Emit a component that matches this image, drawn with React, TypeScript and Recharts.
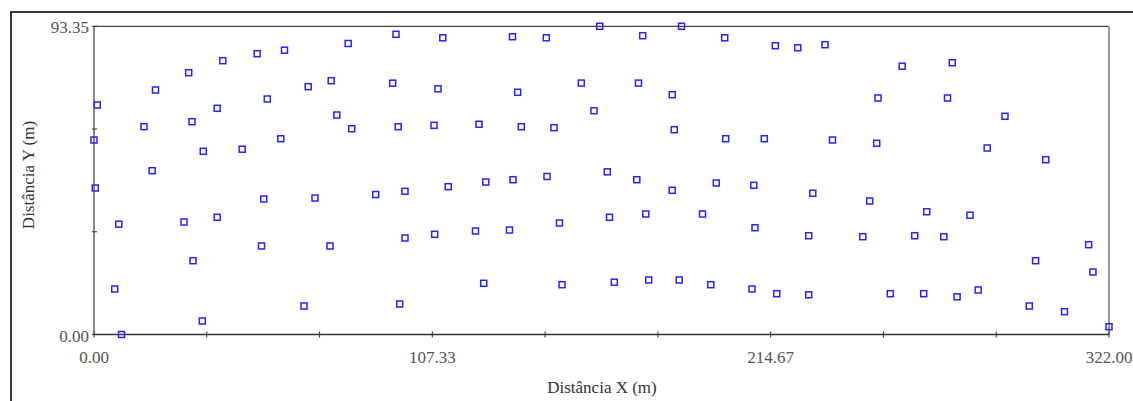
import React from 'react';
import { ScatterChart, Scatter, XAxis, YAxis, ReferenceLine } from 'recharts';

// Sample points (Distância X, Distância Y) in metres
const pointX = [1.05, 0.0, 0.41, 8.72, 6.57, 7.87, 15.86, 19.51, 18.46, 30.04,
  31.09, 28.55, 31.41, 34.36, 34.67, 39.08, 40.86, 39.08, 47.01, 51.77,
  53.14, 53.84, 54.98, 59.26, 60.43, 66.62, 67.95, 70.11, 74.87, 75.25,
  77.03, 80.64, 81.75, 89.37, 94.76, 95.81, 96.5, 96.98, 98.66, 98.66,
  107.86, 108.08, 109.13, 110.65, 112.37, 121.03, 122.14, 123.63, 124.29, 131.81,
  132.76, 132.92, 134.41, 135.56, 143.49, 143.71, 145.93, 147.67, 148.47, 154.59,
  158.62, 160.43, 162.84, 163.54, 165.06, 172.2, 172.74, 174.07, 175.05, 175.97,
  183.45, 184.09, 183.43, 185.65, 186.38, 193.04, 195.67, 197.42, 200.08, 200.4,
  208.74, 209.31, 209.69, 212.65, 216.14, 216.61, 223.25, 226.74, 226.74, 228.03,
  231.9, 234.28, 243.89, 246.08, 248.3, 248.72, 252.62, 256.39, 260.36, 263.21,
  264.17, 269.59, 270.77, 272.29, 273.8, 277.9, 280.5, 283.36, 289.0, 296.71,
  298.71, 301.94, 307.88, 315.55, 316.92, 322.0];

const pointY = [69.51, 58.91, 44.37, 0.0, 13.78, 33.41, 62.94, 74.06, 49.61, 79.3,
  64.45, 34.07, 22.35, 4.09, 55.49, 68.51, 82.93, 35.5, 56.12, 85.05,
  26.81, 41.04, 71.33, 59.3, 86.11, 8.63, 75.06, 41.34, 26.81, 76.87,
  66.48, 88.14, 62.33, 42.4, 76.12, 90.93, 62.94, 9.24, 43.37, 29.23,
  63.36, 30.35, 74.42, 89.87, 44.77, 31.35, 63.67, 15.51, 46.19, 31.65,
  90.2, 46.89, 73.36, 62.94, 89.87, 47.86, 62.64, 33.77, 15.08, 76.15,
  67.79, 93.35, 49.28, 35.5, 15.84, 46.89, 76.15, 90.5, 36.5, 16.51,
  72.63, 62.03, 43.68, 16.51, 93.35, 36.5, 15.08, 45.89, 89.87, 59.3,
  13.78, 45.19, 32.35, 59.3, 87.47, 12.36, 86.84, 29.92, 12.02, 42.77,
  87.78, 58.91, 29.62, 40.43, 57.91, 71.63, 12.36, 81.26, 29.92, 12.36,
  37.19, 29.62, 71.63, 82.32, 11.42, 36.13, 13.48, 56.49, 66.09, 8.63,
  22.35, 52.94, 6.91, 27.2, 18.93, 2.36];

const xTicks = [0, 35.78, 71.56, 107.33, 143.11, 178.89, 214.67, 250.44, 286.22, 322];
const xTickLabels = ['0.00', '', '', '107.33', '', '', '214.67', '', '', '322.00'];
const yTicks = [0, 31.12, 62.23, 93.35];
const yTickLabels = ['0.00', '', '', '93.35'];

const xTitle = 'Distância X (m)';
const yTitle = 'Distância Y (m)';

const data = pointX.map((x, i) => ({ x, y: pointY[i] }));

const FONT = "'Liberation Serif', 'Times New Roman', serif";

const XTick = (props: any) => {
  const { x, y, payload } = props;
  const idx = xTicks.indexOf(payload.value);
  const label = idx >= 0 ? xTickLabels[idx] : '';
  return (
    <g>
      <line x1={x} x2={x} y1={y - 3} y2={y + 3} stroke="#333" strokeWidth={1} />
      {label ? (
        <text x={x} y={y + 28} textAnchor="middle" fontFamily={FONT} fontSize={17} fill="#555">
          {label}
        </text>
      ) : null}
    </g>
  );
};

const YTick = (props: any) => {
  const { x, y, payload } = props;
  const idx = yTicks.indexOf(payload.value);
  const label = idx >= 0 ? yTickLabels[idx] : '';
  return (
    <g>
      <line x1={x - 2} x2={x + 3} y1={y} y2={y} stroke="#333" strokeWidth={1} />
      {label ? (
        <text x={x - 5} y={y + 7} textAnchor="end" fontFamily={FONT} fontSize={17} fill="#555">
          {label}
        </text>
      ) : null}
    </g>
  );
};

const Square = (props: any) => {
  const { cx, cy } = props;
  if (cx == null || cy == null) return null;
  return (
    <rect x={cx - 3} y={cy - 3} width={6} height={6} fill="none" stroke="#2424ff" strokeWidth={1.5} />
  );
};

export default function App() {
  return (
    <div style={{ position: 'fixed', left: 0, top: 0, width: 1133, height: 401, background: '#fff', overflow: 'hidden' }}>
      <div
        style={{
          position: 'absolute',
          left: 10,
          top: 11,
          right: -5,
          bottom: -5,
          borderTop: '2px solid #3a3a3a',
          borderLeft: '2px solid #3a3a3a',
        }}
      />
      <div style={{ position: 'absolute', left: 0, top: 0 }}>
        <ScatterChart width={1133} height={401} margin={{ top: 26.3, right: 24, bottom: 0, left: 0 }}>
          <XAxis
            dataKey="x"
            type="number"
            domain={[0, 322]}
            ticks={xTicks}
            interval={0}
            height={66.5}
            tick={<XTick />}
            tickLine={false}
            tickSize={0}
            tickMargin={0}
            axisLine={{ stroke: '#333', strokeWidth: 1.5 }}
          />
          <YAxis
            dataKey="y"
            type="number"
            domain={[0, 93.35]}
            ticks={yTicks}
            interval={0}
            width={94}
            tick={<YTick />}
            tickLine={false}
            tickSize={0}
            tickMargin={0}
            axisLine={{ stroke: '#8a8a8a', strokeWidth: 2 }}
          />
          <ReferenceLine y={93.35} stroke="#444" strokeWidth={1.2} />
          <ReferenceLine x={322} stroke="#9a9a9a" strokeWidth={2} />
          <Scatter data={data} shape={<Square />} isAnimationActive={false} />
        </ScatterChart>
      </div>
      <svg
        width={1133}
        height={401}
        style={{ position: 'absolute', left: 0, top: 0, pointerEvents: 'none' }}
      >
        <text x={602} y={393} textAnchor="middle" fontFamily={FONT} fontSize={17} fill="#333">
          {xTitle}
        </text>
        <text
          x={34}
          y={175}
          textAnchor="middle"
          fontFamily={FONT}
          fontSize={17}
          fill="#333"
          transform="rotate(-90 34 175)"
        >
          {yTitle}
        </text>
      </svg>
    </div>
  );
}
